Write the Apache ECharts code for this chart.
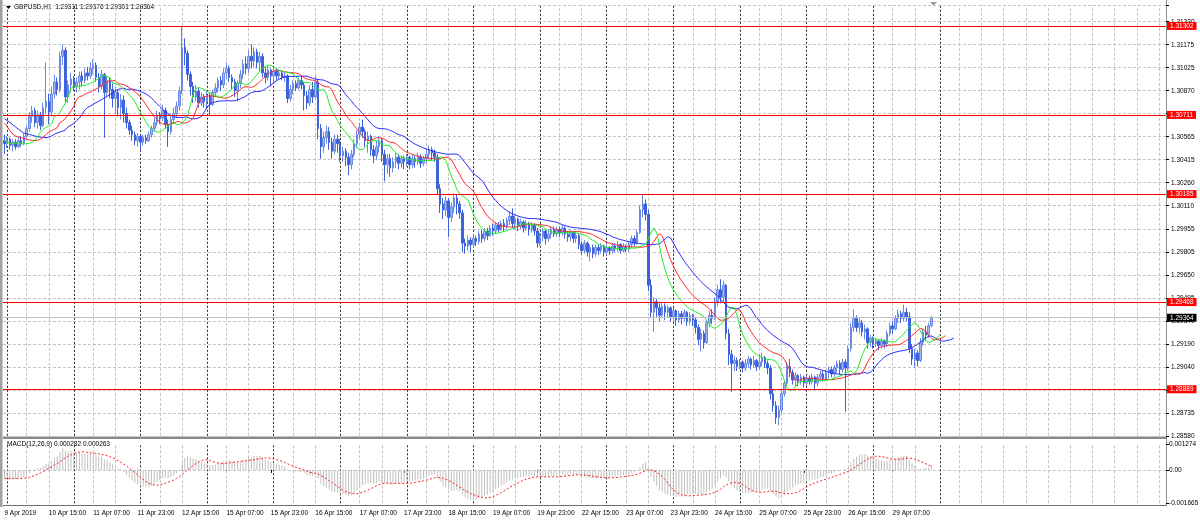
<!DOCTYPE html>
<html><head><meta charset="utf-8">
<script src="https://cdn.jsdelivr.net/npm/echarts@6/dist/echarts.min.js"></script>
<style>html,body{margin:0;padding:0;background:#fff;overflow:hidden}#c{width:1200px;height:523px}</style>
</head><body><div id="c"></div>
<script>
// ---------- data ----------
const symbolTitle = 'GBPUSD,H1';
const headerOHLC = ['1.29311', '1.29376', '1.29301', '1.29364'];
const macdTitle = 'MACD(12,26,9) 0.000282 0.000263';
const timeLabels = ['9 Apr 2019','10 Apr 15:00','11 Apr 07:00','11 Apr 23:00','12 Apr 15:00','15 Apr 07:00','15 Apr 23:00','16 Apr 15:00','17 Apr 07:00','17 Apr 23:00','18 Apr 15:00','19 Apr 07:00','19 Apr 23:00','22 Apr 15:00','23 Apr 07:00','23 Apr 23:00','24 Apr 15:00','25 Apr 07:00','25 Apr 23:00','26 Apr 15:00','29 Apr 07:00'];
const priceTicks = ['1.28580','1.28735','1.28888','1.29040','1.29190','1.29340','1.29495','1.29650','1.29805','1.29955','1.30110','1.30260','1.30415','1.30565','1.30720','1.30870','1.31025','1.31175','1.31330'];
const levelLines = [1.31302, 1.30711, 1.30185, 1.29468, 1.28889];
const lastPrice = 1.29364;
const firstOpen = 1.3054;
const close = [
1.3052,1.3055,1.3051,1.3053,1.3050,1.3054,1.3052,1.3057,1.3062,1.3070,
1.3074,1.3066,1.3071,1.3064,1.3076,1.3080,1.3073,1.3085,1.3093,1.3088,
1.3110,1.3114,1.3083,1.3091,1.3095,1.3090,1.3093,1.3097,1.3094,1.3099,
1.3097,1.3102,1.3104,1.3096,1.3090,1.3098,1.3086,1.3094,1.3088,1.3082,
1.3086,1.3076,1.3081,1.3072,1.3066,1.3061,1.3058,1.3054,1.3057,1.3053,
1.3056,1.3054,1.3058,1.3062,1.3066,1.3071,1.3069,1.3074,1.3065,1.3060,
1.3068,1.3072,1.3077,1.3087,1.3116,1.3112,1.3098,1.3090,1.3083,1.3087,
1.3079,1.3083,1.3080,1.3084,1.3078,1.3086,1.3089,1.3094,1.3091,1.3099,
1.3102,1.3096,1.3093,1.3087,1.3092,1.3098,1.3105,1.3102,1.3110,1.3107,
1.3113,1.3106,1.3110,1.3099,1.3096,1.3101,1.3097,1.3100,1.3097,1.3099,
1.3096,1.3097,1.3082,1.3088,1.3092,1.3089,1.3094,1.3091,1.3084,1.3079,
1.3088,1.3083,1.3093,1.3062,1.3050,1.3056,1.3060,1.3053,1.3047,1.3055,
1.3052,1.3044,1.3047,1.3043,1.3038,1.3045,1.3052,1.3058,1.3063,1.3060,
1.3054,1.3057,1.3048,1.3044,1.3050,1.3054,1.3045,1.3038,1.3042,1.3036,
1.3040,1.3043,1.3039,1.3042,1.3040,1.3043,1.3038,1.3042,1.3040,1.3043,
1.3039,1.3042,1.3045,1.3048,1.3046,1.3043,1.3022,1.3012,1.3008,1.3014,
1.3003,1.3010,1.3016,1.3012,1.3006,1.2986,1.2984,1.2988,1.2985,1.2989,
1.2987,1.2992,1.2989,1.2994,1.2991,1.2996,1.2994,1.2998,1.2995,1.2999,
1.2997,1.3001,1.3004,1.2999,1.3002,1.2997,1.3000,1.2996,1.2999,1.2995,
1.2998,1.2994,1.2986,1.2990,1.2994,1.2989,1.2992,1.2995,1.2992,1.2995,
1.2993,1.2996,1.2992,1.2990,1.2993,1.2989,1.2991,1.2985,1.2981,1.2986,
1.2980,1.2983,1.2979,1.2983,1.2981,1.2984,1.2980,1.2983,1.2981,1.2984,
1.2982,1.2985,1.2981,1.2984,1.2982,1.2985,1.2989,1.2986,1.2993,1.3008,
1.3012,1.3005,1.2958,1.2940,1.2947,1.2943,1.2938,1.2944,1.2940,1.2943,
1.2937,1.2941,1.2935,1.2939,1.2936,1.2940,1.2934,1.2938,1.2935,1.2930,
1.2922,1.2926,1.2920,1.2933,1.2938,1.2936,1.2947,1.2955,1.2950,1.2958,
1.2926,1.2912,1.2906,1.2908,1.2904,1.2907,1.2903,1.2906,1.2909,1.2905,
1.2908,1.2904,1.2907,1.2910,1.2906,1.2903,1.2886,1.2878,1.2870,1.2875,
1.2886,1.2893,1.2904,1.2900,1.2895,1.2898,1.2894,1.2897,1.2893,1.2896,
1.2894,1.2897,1.2893,1.2897,1.2899,1.2896,1.2900,1.2902,1.2899,1.2903,
1.2906,1.2902,1.2907,1.2903,1.2916,1.2930,1.2936,1.2930,1.2933,1.2927,
1.2929,1.2920,1.2923,1.2919,1.2921,1.2918,1.2921,1.2919,1.2926,1.2931,
1.2929,1.2936,1.2939,1.2936,1.2940,1.2937,1.2916,1.2909,1.2913,1.2908,
1.2920,1.2927,1.2925,1.29311,1.29364];
const high = [
1.3058,1.3057,1.3056,1.3055,1.3055,1.3056,1.3057,1.3059,1.3064,1.3073,
1.3077,1.3076,1.3074,1.3073,1.3079,1.3106,1.3085,1.3090,1.3098,1.3096,
1.3113,1.3118,1.3116,1.3094,1.3099,1.3097,1.3096,1.3100,1.3100,1.3102,
1.3103,1.3106,1.3108,1.3106,1.3099,1.3101,1.3099,1.3097,1.3096,1.3092,
1.3090,1.3088,1.3085,1.3084,1.3076,1.3068,1.3064,1.3060,1.3059,1.3058,
1.3058,1.3058,1.3060,1.3064,1.3069,1.3074,1.3073,1.3078,1.3076,1.3068,
1.3071,1.3076,1.3080,1.3090,1.3130,1.3122,1.3114,1.3100,1.3093,1.3091,
1.3089,1.3086,1.3085,1.3087,1.3086,1.3088,1.3092,1.3096,1.3097,1.3102,
1.3106,1.3104,1.3098,1.3095,1.3094,1.3101,1.3108,1.3110,1.3114,1.3118,
1.3116,1.3115,1.3113,1.3112,1.3103,1.3104,1.3102,1.3103,1.3102,1.3101,
1.3100,1.3100,1.3098,1.3091,1.3094,1.3094,1.3096,1.3097,1.3093,1.3087,
1.3091,1.3093,1.3097,1.3095,1.3065,1.3060,1.3064,1.3063,1.3056,1.3058,
1.3058,1.3055,1.3050,1.3049,1.3046,1.3048,1.3055,1.3061,1.3066,1.3068,
1.3062,1.3060,1.3058,1.3051,1.3054,1.3057,1.3056,1.3048,1.3045,1.3045,
1.3043,1.3046,1.3045,1.3044,1.3044,1.3045,1.3044,1.3045,1.3044,1.3046,
1.3045,1.3044,1.3048,1.3051,1.3050,1.3048,1.3045,1.3025,1.3016,1.3017,
1.3016,1.3013,1.3019,1.3018,1.3014,1.3008,1.2989,1.2991,1.2990,1.2992,
1.2991,1.2994,1.2995,1.2996,1.2996,1.2998,1.2999,1.3000,1.3000,1.3001,
1.3002,1.3003,1.3007,1.3009,1.3004,1.3003,1.3002,1.3001,1.3001,1.3000,
1.3000,1.2999,1.2996,1.2993,1.2996,1.2995,1.2995,1.2997,1.2997,1.2997,
1.2997,1.2998,1.2997,1.2994,1.2995,1.2994,1.2993,1.2992,1.2987,1.2988,
1.2987,1.2985,1.2985,1.2985,1.2985,1.2986,1.2985,1.2985,1.2984,1.2986,
1.2986,1.2987,1.2986,1.2986,1.2985,1.2987,1.2991,1.2991,1.2995,1.3011,
1.3018,1.3015,1.3008,1.2962,1.2950,1.2949,1.2946,1.2947,1.2946,1.2945,
1.2944,1.2943,1.2942,1.2941,1.2941,1.2942,1.2941,1.2940,1.2939,1.2937,
1.2932,1.2929,1.2928,1.2935,1.2941,1.2942,1.2950,1.2958,1.2962,1.2961,
1.2959,1.2929,1.2915,1.2911,1.2910,1.2909,1.2908,1.2909,1.2911,1.2910,
1.2911,1.2909,1.2912,1.2913,1.2911,1.2908,1.2905,1.2889,1.2881,1.2878,
1.2889,1.2895,1.2907,1.2909,1.2902,1.2900,1.2899,1.2899,1.2898,1.2898,
1.2898,1.2899,1.2898,1.2899,1.2901,1.2901,1.2902,1.2904,1.2904,1.2905,
1.2908,1.2908,1.2909,1.2909,1.2918,1.2933,1.2942,1.2938,1.2936,1.2935,
1.2932,1.2930,1.2925,1.2924,1.2923,1.2922,1.2923,1.2922,1.2928,1.2933,
1.2934,1.2938,1.2942,1.2941,1.2945,1.2943,1.2940,1.2919,1.2916,1.2915,
1.2923,1.2929,1.2931,1.2933,1.29376];
const low = [
1.3045,1.3049,1.3048,1.3047,1.3048,1.3049,1.3050,1.3051,1.3055,1.3060,
1.3066,1.3063,1.3062,1.3061,1.3063,1.3072,1.3065,1.3070,1.3082,1.3084,
1.3086,1.3104,1.3080,1.3079,1.3086,1.3087,1.3086,1.3088,1.3090,1.3092,
1.3094,1.3095,1.3098,1.3093,1.3086,1.3088,1.3056,1.3083,1.3082,1.3076,
1.3072,1.3070,1.3068,1.3066,1.3062,1.3058,1.3054,1.3051,1.3050,1.3048,
1.3051,1.3052,1.3053,1.3056,1.3060,1.3064,1.3065,1.3067,1.3062,1.3050,
1.3058,1.3065,1.3069,1.3074,1.3085,1.3104,1.3094,1.3084,1.3079,1.3080,
1.3076,1.3077,1.3076,1.3075,1.3071,1.3077,1.3083,1.3086,1.3087,1.3089,
1.3095,1.3093,1.3088,1.3083,1.3080,1.3089,1.3095,1.3098,1.3099,1.3102,
1.3103,1.3102,1.3100,1.3096,1.3092,1.3094,1.3090,1.3092,1.3094,1.3095,
1.3094,1.3093,1.3079,1.3080,1.3085,1.3087,1.3088,1.3088,1.3074,1.3075,
1.3077,1.3079,1.3082,1.3055,1.3042,1.3046,1.3052,1.3048,1.3042,1.3045,
1.3046,1.3040,1.3040,1.3037,1.3031,1.3035,1.3043,1.3049,1.3055,1.3056,
1.3050,1.3046,1.3044,1.3039,1.3041,1.3046,1.3040,1.3027,1.3032,1.3030,
1.3033,1.3036,1.3035,1.3036,1.3035,1.3037,1.3035,1.3036,1.3036,1.3038,
1.3036,1.3037,1.3039,1.3042,1.3041,1.3040,1.3018,1.3006,1.3002,1.3004,
1.2990,1.3000,1.3006,1.3005,1.3002,1.2980,1.2979,1.2981,1.2980,1.2983,
1.2984,1.2985,1.2986,1.2987,1.2988,1.2990,1.2991,1.2992,1.2993,1.2994,
1.2994,1.2995,1.2998,1.2996,1.2995,1.2994,1.2995,1.2993,1.2994,1.2991,
1.2993,1.2991,1.2983,1.2984,1.2987,1.2985,1.2987,1.2989,1.2990,1.2990,
1.2990,1.2991,1.2989,1.2987,1.2987,1.2986,1.2986,1.2982,1.2978,1.2979,
1.2977,1.2974,1.2976,1.2977,1.2978,1.2979,1.2977,1.2978,1.2978,1.2979,
1.2980,1.2980,1.2979,1.2980,1.2980,1.2980,1.2983,1.2984,1.2985,1.2992,
1.3003,1.3001,1.2954,1.2936,1.2927,1.2937,1.2934,1.2936,1.2935,1.2937,
1.2934,1.2934,1.2931,1.2933,1.2932,1.2934,1.2931,1.2932,1.2931,1.2926,
1.2918,1.2914,1.2916,1.2919,1.2930,1.2932,1.2935,1.2944,1.2946,1.2947,
1.2922,1.2905,1.2887,1.2901,1.2901,1.2902,1.2900,1.2901,1.2903,1.2902,
1.2903,1.2901,1.2902,1.2904,1.2903,1.2899,1.2882,1.2874,1.2866,1.2865,
1.2873,1.2884,1.2891,1.2897,1.2892,1.2891,1.2891,1.2892,1.2890,1.2891,
1.2892,1.2892,1.2889,1.2891,1.2894,1.2894,1.2895,1.2896,1.2897,1.2897,
1.2900,1.2899,1.2900,1.2874,1.2901,1.2914,1.2927,1.2927,1.2926,1.2924,
1.2922,1.2916,1.2917,1.2916,1.2917,1.2915,1.2916,1.2916,1.2917,1.2924,
1.2926,1.2928,1.2933,1.2933,1.2934,1.2934,1.2913,1.2905,1.2903,1.2904,
1.2907,1.2918,1.2921,1.2923,1.29301];
// Alligator lines as drawn at the left edge (before the visible history)
const jawHead = [1.30686,1.30674,1.30661,1.30646,1.30631,1.30617,1.30604,1.30591];
const teethHead = [1.30657,1.30635,1.30606,1.30584,1.30571];
const lipsHead = [1.30540,1.30531,1.30522];
// MACD state at the left edge
const ema12Seed = 1.3059, ema26Seed = 1.3063;
const macdMax = 0.001274, macdMin = -0.001665;

// ---------- derived (indicators computed from the data) ----------
const NCAT = 419;
const cats = Array.from({length: NCAT}, (_, i) => String(i));
const candles = close.map((c, i) => {
  const o = i ? close[i - 1] : firstOpen;
  return [o, c, Math.min(low[i], o, c), Math.max(high[i], o, c)];
});
function alligator(head, period) {
  const shift = head.length;
  const out = new Array(NCAT).fill(null);
  head.forEach((v, i) => out[i] = v);
  let s = head[shift - 1];
  for (let i = 0; i < close.length; i++) {
    const m = (high[i] + low[i]) / 2;
    s = (s * (period - 1) + m) / period;
    out[i + shift] = s;
  }
  return out;
}
const jaw = alligator(jawHead, 13), teeth = alligator(teethHead, 8), lips = alligator(lipsHead, 5);
let e12 = ema12Seed, e26 = ema26Seed;
const macd = close.map(c => { e12 += (c - e12) * 2 / 13; e26 += (c - e26) * 2 / 27; return e12 - e26; });
const signal = macd.map((v, i) => { const s = Math.max(0, i - 8); let t = 0; for (let j = s; j <= i; j++) t += macd[j]; return t / (i - s + 1); });

// ---------- chart ----------
const FONT = 'Liberation Sans';
const FS = 6.5;
const yMin = 1.28580, yStep = 0.0015278, yMax = 1.31441;
const lastSep = 337;
const gridLines = [], sepLines = [];
for (let i = 8; i < NCAT; i += 8) {
  if (i % 24 === 0 && i + 1 <= lastSep) continue;
  gridLines.push({xAxis: String(i)});
}
for (let i = 1; i <= lastSep; i += 24) sepLines.push({xAxis: String(i)});

const lvlLabel = (bg) => ({show: true, position: 'end', distance: 1, formatter: (p) => Number(p.value).toFixed(5), backgroundColor: bg, color: '#ffffff',
  fontFamily: FONT, fontSize: FS, padding: [1, 3, 0, 3], lineHeight: 7});
const mkLine = (data, color, type, z, label) => ({z: z, silent: true, precision: 6, symbol: ['none', 'none'],
  lineStyle: {color: color, width: 1, type: type, opacity: 1}, label: label || {show: false}, emphasis: {disabled: true}, data: data});

const chart = echarts.init(document.getElementById('c'), null, {renderer: 'canvas'});
chart.setOption({
  animation: false,
  backgroundColor: '#ffffff',
  grid: [
    {left: 3, right: 34, top: 5, height: 430.8, containLabel: false, outerBoundsMode: 'none'},
    {left: 3, right: 34, top: 444.3, height: 59, containLabel: false, outerBoundsMode: 'none'}
  ],
  xAxis: [
    {type: 'category', gridIndex: 0, data: cats, boundaryGap: true,
     axisLine: {show: false}, axisTick: {show: false}, axisLabel: {show: false}, splitLine: {show: false}},
    {type: 'category', gridIndex: 1, data: cats, boundaryGap: true, offset: 2.5,
     axisLine: {show: false},
     axisTick: {show: true, alignWithLabel: true, interval: (i) => i % 16 === 0 && i / 16 < timeLabels.length, length: 3, lineStyle: {color: '#000'}},
     axisLabel: {show: true, interval: (i) => i % 16 === 0 && i / 16 < timeLabels.length,
                 formatter: (v, i) => timeLabels[i / 16] || '', align: 'left', margin: 4,
                 color: '#000', fontFamily: FONT, fontSize: FS},
     splitLine: {show: false}}
  ],
  yAxis: [
    {type: 'value', gridIndex: 0, position: 'right', min: yMin, max: yMax, interval: yStep,
     axisLine: {show: false}, axisTick: {show: true, length: 3, lineStyle: {color: '#000'}},
     axisLabel: {show: true, margin: 5, color: '#000', fontFamily: FONT, fontSize: FS,
                 formatter: (v) => { const k = Math.round((v - yMin) / yStep); return Math.abs(v - (yMin + k * yStep)) < yStep / 4 ? (priceTicks[k] || '') : ''; }},
     splitLine: {show: true, lineStyle: {color: '#c4c4c4', type: [3, 2], width: 1}}},
    {type: 'value', gridIndex: 1, position: 'right', min: macdMin, max: macdMax, interval: -macdMin,
     axisLine: {show: false}, axisTick: {show: true, length: 3, lineStyle: {color: '#000'}},
     axisLabel: {show: true, margin: 3, color: '#000', fontFamily: FONT, fontSize: FS,
                 formatter: (v) => Math.abs(v) < 1e-9 ? '0.00' : v.toFixed(6)},
     splitLine: {show: false}}
  ],
  series: [
    {type: 'line', xAxisIndex: 0, yAxisIndex: 0, data: [], silent: true, markLine: mkLine(gridLines, '#c4c4c4', [3, 2], 1)},
    {type: 'line', xAxisIndex: 0, yAxisIndex: 0, data: [], silent: true, markLine: mkLine(sepLines, '#2a2a2a', [2, 2], 1)},
    {type: 'candlestick', xAxisIndex: 0, yAxisIndex: 0, data: candles, barWidth: 2, silent: true,
     itemStyle: {color: '#a3b6ee', color0: '#3c62dc', borderColor: '#6a89e6', borderColor0: '#3c62dc', borderWidth: 1}},
    {type: 'line', xAxisIndex: 0, yAxisIndex: 0, data: [], silent: true,
     markLine: mkLine([{yAxis: lastPrice}], '#c0c0c0', 'solid', 5, lvlLabel('#000000'))},
    {type: 'line', xAxisIndex: 0, yAxisIndex: 0, data: [], silent: true,
     markLine: mkLine(levelLines.map(v => ({yAxis: v})), '#ff0000', 'solid', 6, lvlLabel('#ff0000'))},
    {type: 'line', xAxisIndex: 0, yAxisIndex: 0, data: jaw, showSymbol: false, silent: true, z: 4,
     lineStyle: {color: '#2a2aff', width: 1}},
    {type: 'line', xAxisIndex: 0, yAxisIndex: 0, data: teeth, showSymbol: false, silent: true, z: 4,
     lineStyle: {color: '#ff2a2a', width: 1}},
    {type: 'line', xAxisIndex: 0, yAxisIndex: 0, data: lips, showSymbol: false, silent: true, z: 4,
     lineStyle: {color: '#22ee22', width: 1}},
    {type: 'line', xAxisIndex: 1, yAxisIndex: 1, data: [], silent: true, markLine: mkLine(gridLines.concat([{yAxis: 0}]), '#c4c4c4', [3, 2], 1)},
    {type: 'line', xAxisIndex: 1, yAxisIndex: 1, data: [], silent: true, markLine: mkLine(sepLines, '#2a2a2a', [2, 2], 1)},
    {type: 'bar', xAxisIndex: 1, yAxisIndex: 1, data: macd, barWidth: 1, silent: true,
     itemStyle: {color: '#c0c0c0'}},
    {type: 'line', xAxisIndex: 1, yAxisIndex: 1, data: signal, showSymbol: false, silent: true, z: 4,
     lineStyle: {color: '#ff2020', width: 1, type: [2, 2]}}
  ],
  graphic: [
    {type: 'rect', shape: {x: 0, y: 0, width: 2.5, height: 507}, style: {fill: '#a0a0a0'}, silent: true},
    {type: 'line', shape: {x1: 1166.5, y1: 0, x2: 1166.5, y2: 506}, style: {stroke: '#909090', lineWidth: 1}, silent: true},
    {type: 'rect', shape: {x: 3, y: 436.5, width: 1163.5, height: 2.5}, style: {fill: '#8a8a8a'}, silent: true},
    {type: 'line', shape: {x1: 3, y1: 505.5, x2: 1166.5, y2: 505.5}, style: {stroke: '#707070', lineWidth: 1}, silent: true},
    {type: 'polygon', shape: {points: [[6, 6], [11, 6], [8.5, 9]]}, style: {fill: '#000'}, silent: true},
    {type: 'polygon', shape: {points: [[930, 2], [937, 2], [933.5, 6]]}, style: {fill: '#a0a0a0'}, silent: true},
    {type: 'text', x: 14, y: 4, style: {text: symbolTitle + '  ' + headerOHLC.join(' '), fill: '#000', fontFamily: FONT, fontSize: FS}, silent: true},
    {type: 'text', x: 7, y: 441, style: {text: macdTitle, fill: '#000', fontFamily: FONT, fontSize: FS}, silent: true}
  ]
});
</script>
</body></html>
